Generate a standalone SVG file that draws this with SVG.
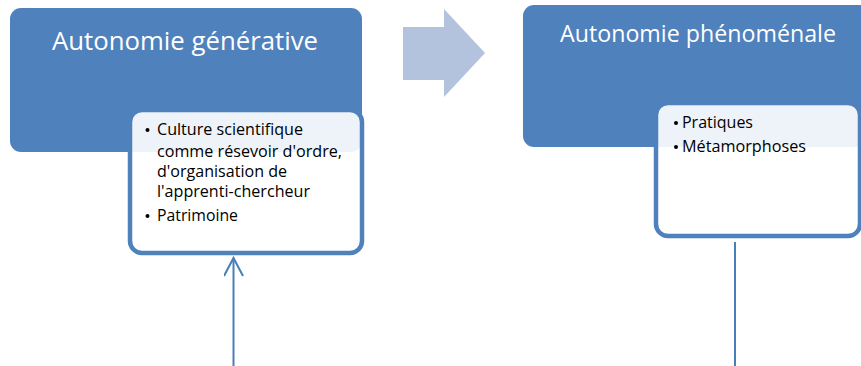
<svg xmlns="http://www.w3.org/2000/svg" width="861" height="366" viewBox="0 0 861 366">
  <style>
    .main { fill: #4F81BD; }
    .detail { fill: #FFFFFF; fill-opacity: 0.9; stroke: #4F81BD; stroke-width: 4.5; }
    .title { font-family: "Open Sans", "Liberation Sans", sans-serif; fill: #FFFFFF; }
    .item { font-family: "Open Sans", "Liberation Sans", sans-serif; font-size: 15.5px; fill: #000000; }
    .bullet { fill: #000000; }
    .conn { stroke: #4A7EBB; stroke-width: 2; fill: none; }
  </style>
  <defs>
    <marker id="openArrow" markerUnits="userSpaceOnUse" markerWidth="24" markerHeight="24" refX="19" refY="10" orient="auto">
      <path d="M1,0.5 L19,10 L1,19.5" fill="none" stroke="#4A7EBB" stroke-width="2"/>
    </marker>
  </defs>

  <rect width="861" height="366" fill="#FFFFFF"/>

  <g id="node-generative">
    <rect class="main" x="10" y="8" width="352" height="144" rx="11"/>
    <text class="title" x="52" y="50" font-size="25.5" textLength="266" lengthAdjust="spacingAndGlyphs">Autonomie générative</text>
  </g>

  <g id="node-generative-detail">
    <rect class="detail" x="130" y="110" width="232" height="143" rx="12"/>
    <circle class="bullet" cx="147.5" cy="130" r="2"/>
    <text class="item" x="157" y="135" textLength="146" lengthAdjust="spacingAndGlyphs">Culture scientifique</text>
    <text class="item" x="157" y="156.5" textLength="185" lengthAdjust="spacingAndGlyphs">comme résevoir d'ordre,</text>
    <text class="item" x="157" y="177" textLength="130" lengthAdjust="spacingAndGlyphs">d'organisation de</text>
    <text class="item" x="157" y="197" textLength="153" lengthAdjust="spacingAndGlyphs">l'apprenti-chercheur</text>
    <circle class="bullet" cx="147.5" cy="216" r="2"/>
    <text class="item" x="157" y="221" textLength="81" lengthAdjust="spacingAndGlyphs">Patrimoine</text>
  </g>

  <g id="transition-arrow">
    <polygon points="403,27 444,27 444,9 485,53 444,97 444,80 403,80" fill="#B3C3DE"/>
  </g>

  <g id="node-phenomenal">
    <rect class="main" x="523" y="5" width="360" height="142" rx="11"/>
    <text class="title" x="560" y="42" font-size="23.5" textLength="276" lengthAdjust="spacingAndGlyphs">Autonomie phénoménale</text>
  </g>

  <g id="node-phenomenal-detail">
    <rect class="detail" x="656" y="103" width="204" height="133" rx="12"/>
    <circle class="bullet" cx="676" cy="123" r="2"/>
    <text class="item" x="682" y="128" textLength="71" lengthAdjust="spacingAndGlyphs">Pratiques</text>
    <circle class="bullet" cx="676" cy="147" r="2"/>
    <text class="item" x="682" y="152" textLength="124" lengthAdjust="spacingAndGlyphs">Métamorphoses</text>
  </g>

  <g id="connectors">
    <line class="conn" x1="233.5" y1="366" x2="233.5" y2="258" marker-end="url(#openArrow)"/>
    <line class="conn" x1="735" y1="242" x2="735" y2="366"/>
  </g>
</svg>
